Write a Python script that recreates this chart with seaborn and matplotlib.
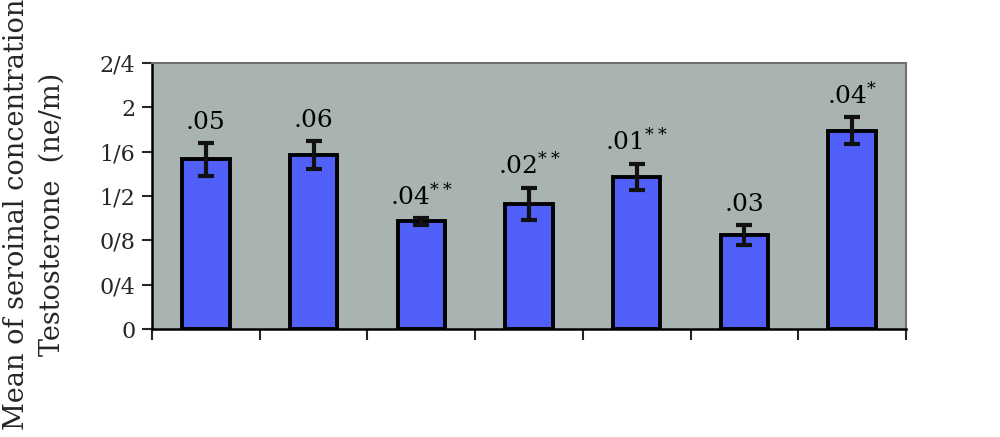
import matplotlib
matplotlib.use("Agg")
import matplotlib.pyplot as plt
import seaborn as sns
import pandas as pd
import numpy as np

# Data
groups = ["G1", "G2", "G3", "G4", "G5", "G6", "G7"]
means = [1.53, 1.57, 0.97, 1.13, 1.37, 0.85, 1.79]
errors = [0.15, 0.13, 0.03, 0.145, 0.12, 0.09, 0.12]
labels = [".05", ".06", ".04", ".02", ".01", ".03", ".04"]
stars = ["", "", "**", "**", "**", "", "*"]
ytick_vals = [0, 0.4, 0.8, 1.2, 1.6, 2.0, 2.4]
ytick_labels = ["0", "0/4", "0/8", "1/2", "1/6", "2", "2/4"]
ylabel_text = "Mean of seroinal concentration\nTestosterone  (ne/m)"

sns.set_style("white")
plt.rcParams["font.family"] = ["DejaVu Serif"]
plt.rcParams["mathtext.fontset"] = "dejavuserif"

df = pd.DataFrame({"group": groups, "mean": means})

fig = plt.figure(figsize=(10, 4.37), dpi=100)
ax = fig.add_axes([0.152, 0.247, 0.754, 0.609])
ax.set_facecolor("#A9B4B2")

sns.barplot(data=df, x="group", y="mean", color="#5060F8", saturation=1,
            width=0.44, edgecolor="black", linewidth=2.8, ax=ax, zorder=2)

xs = np.arange(len(groups))
ax.errorbar(xs, means, yerr=errors, fmt="none", ecolor="#111111",
            elinewidth=3, capsize=6, capthick=3, zorder=3)

for x, m, e, lab, st in zip(xs, means, errors, labels, stars):
    txt = lab + (r"$^{" + st + "}$" if st else "")
    ax.text(x, m + e + 0.08, txt, ha="center", va="bottom",
            fontsize=18, color="black")

ax.set_ylim(0, 2.4)
ax.set_xlim(-0.5, len(groups) - 0.5)
ax.set_yticks(ytick_vals)
ax.set_yticklabels(ytick_labels, fontsize=16)
ax.set_xticks(np.arange(len(groups) + 1) - 0.5)
ax.set_xticklabels([])
ax.tick_params(axis="y", direction="out", length=7, width=1.5, left=True, pad=5)
ax.tick_params(axis="x", direction="out", length=8, width=1.5, bottom=True)
ax.set_xlabel("")
ax.set_ylabel("")

fig.text(0.034, 1 - 214 / 437, ylabel_text, rotation=90, ha="center",
         va="center", fontsize=19.5, linespacing=1.4, multialignment="center")

for side in ["left", "bottom"]:
    ax.spines[side].set_color("black")
    ax.spines[side].set_linewidth(1.8)
for side in ["top", "right"]:
    ax.spines[side].set_color("#707070")
    ax.spines[side].set_linewidth(1.5)

fig.savefig("out.png", dpi=100)
